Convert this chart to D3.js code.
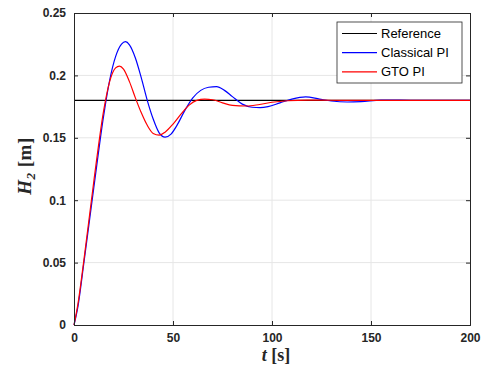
<!DOCTYPE html>
<meta charset="utf-8">
<style>
body { margin: 0; background: #fff; }
.tick text { font: bold 12px Arial, "Liberation Sans", sans-serif; fill: #262626; }
.grid line { stroke: #e6e6e6; }
.lab { font-family: "Times New Roman", "Liberation Serif", serif; font-weight: bold; fill: #262626; }
.leg { font: 13px Arial, "Liberation Sans", sans-serif; fill: #000; }
</style>
<svg width="484" height="367"></svg>
<script src="https://cdn.jsdelivr.net/npm/d3@7"></script>
<script>
// reference set-point
var refLevel = 0.18;

var classicalT = [0, 2, 5, 10, 15, 18, 21, 24, 26, 28, 31, 34, 37, 40, 43, 46, 49, 52, 56, 60, 64, 68, 72, 76, 80, 85, 90, 94, 98, 104, 110, 117, 124, 130, 138, 145, 155, 165, 175, 200];
var classicalH = [0, 0.015, 0.05, 0.11, 0.168, 0.196, 0.215, 0.225, 0.227, 0.2245, 0.214, 0.198, 0.18, 0.165, 0.154, 0.1505, 0.153, 0.16, 0.172, 0.182, 0.188, 0.1905, 0.191, 0.188, 0.183, 0.177, 0.1745, 0.1742, 0.175, 0.178, 0.181, 0.1828, 0.181, 0.1795, 0.1787, 0.179, 0.1802, 0.1802, 0.18, 0.18];

var gtoT = [0, 2, 5, 10, 15, 18, 21, 23, 25, 28, 31, 34, 37, 40, 43, 46, 50, 54, 58, 62, 66, 70, 75, 80, 87, 93, 100, 108, 118, 130, 145, 200];
var gtoH = [0, 0.017, 0.052, 0.115, 0.172, 0.195, 0.206, 0.2075, 0.205, 0.195, 0.182, 0.17, 0.16, 0.1535, 0.1522, 0.1545, 0.161, 0.169, 0.176, 0.18, 0.181, 0.1805, 0.178, 0.176, 0.1755, 0.1765, 0.1785, 0.1797, 0.1802, 0.1801, 0.18, 0.18];

var xTicks = [0, 50, 100, 150, 200];
var yTicks = [0, 0.05, 0.1, 0.15, 0.2, 0.25];
var legendNames = ["Reference", "Classical PI", "GTO PI"];
var colors = ["#000000", "#0000ff", "#ff0000"];

var svg = d3.select("svg"),
    pLeft = 74, pRight = 470, pTop = 13, pBottom = 325;

var x = d3.scaleLinear().domain([0, 200]).range([pLeft, pRight]);
var y = d3.scaleLinear().domain([0, 0.25]).range([pBottom, pTop]);

// grid
var grid = svg.append("g").attr("class", "grid");
grid.selectAll(".gx").data(xTicks.slice(1, -1)).enter().append("line")
    .attr("x1", d => x(d)).attr("x2", d => x(d)).attr("y1", pTop).attr("y2", pBottom);
grid.selectAll(".gy").data(yTicks.slice(1, -1)).enter().append("line")
    .attr("y1", d => y(d)).attr("y2", d => y(d)).attr("x1", pLeft).attr("x2", pRight);

var line = d3.line().x(d => x(d[0])).y(d => y(d[1])).curve(d3.curveMonotoneX);

var series = [
  [[0, refLevel], [200, refLevel]],
  d3.zip(classicalT, classicalH),
  d3.zip(gtoT, gtoH)
];

svg.selectAll(".series").data(series).enter().append("path")
    .attr("d", line)
    .attr("fill", "none")
    .attr("stroke", (d, i) => colors[i])
    .attr("stroke-width", 1.2);

// axes with inward ticks
var xAxis = svg.append("g").attr("transform", "translate(0," + pBottom + ")")
    .call(d3.axisBottom(x).tickValues(xTicks).tickSize(-4).tickPadding(8).tickFormat(d3.format("d")));
var xTop = svg.append("g").attr("transform", "translate(0," + pTop + ")")
    .call(d3.axisTop(x).tickValues(xTicks).tickSize(-4).tickFormat(""));
var yAxis = svg.append("g").attr("transform", "translate(" + pLeft + ",0)")
    .call(d3.axisLeft(y).tickValues(yTicks).tickSize(-4).tickPadding(8).tickFormat(d => d === 0 ? "0" : String(d)));
var yRight = svg.append("g").attr("transform", "translate(" + pRight + ",0)")
    .call(d3.axisRight(y).tickValues(yTicks).tickSize(-4).tickFormat(""));

[xAxis, xTop, yAxis, yRight].forEach(function(a) {
  a.select(".domain").attr("stroke", "#262626").attr("stroke-width", 1);
  a.selectAll(".tick line").attr("stroke", "#262626");
});

// axis labels
var xl = svg.append("text").attr("class", "lab").attr("x", 276).attr("y", 361)
    .attr("text-anchor", "middle").style("font-size", "18px");
xl.append("tspan").attr("font-style", "italic").text("t");
xl.append("tspan").text(" [s]");

var yl = svg.append("text").attr("class", "lab")
    .attr("transform", "translate(31,166) rotate(-90)")
    .attr("text-anchor", "middle").style("font-size", "19px").style("letter-spacing", "0.5px");
yl.append("tspan").attr("font-style", "italic").text("H");
yl.append("tspan").attr("font-style", "italic").attr("dy", 4).style("font-size", "13px").text("2");
yl.append("tspan").attr("dy", -4).text(" [m]");

// legend
var lg = svg.append("g").attr("transform", "translate(337,22)");
lg.append("rect").attr("width", 125).attr("height", 61)
    .attr("fill", "#fff").attr("stroke", "#262626").attr("stroke-width", 0.8);
var row = lg.selectAll(".row").data(legendNames).enter().append("g")
    .attr("transform", (d, i) => "translate(0," + (11.5 + i * 19.2) + ")");
row.append("line").attr("x1", 5).attr("x2", 40)
    .attr("stroke", (d, i) => colors[i]).attr("stroke-width", 1.2);
row.append("text").attr("class", "leg").attr("x", 44).attr("dy", "0.35em").text(d => d);
</script>
